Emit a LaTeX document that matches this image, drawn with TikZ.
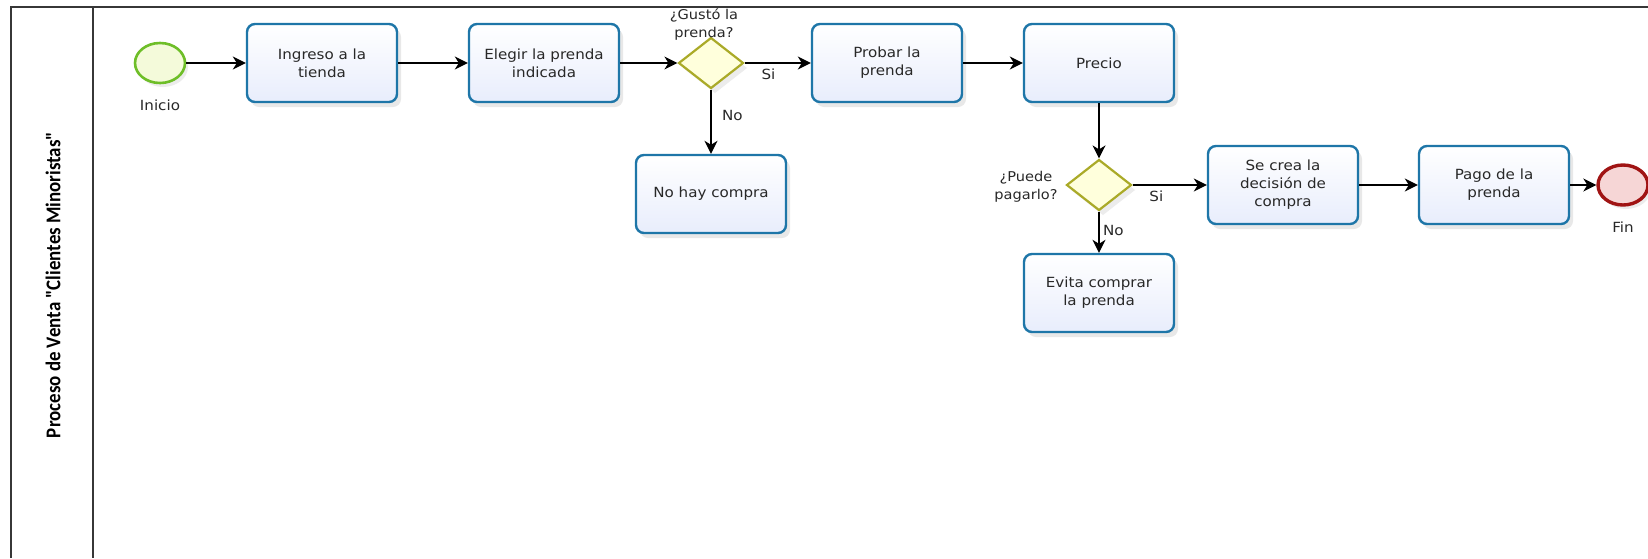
\documentclass[tikz,border=0pt]{standalone}
\usepackage{fontspec}
\setmainfont{DejaVu Sans}[FakeStretch=1.08]
\newfontfamily\lanefont{Carlito}[FakeStretch=0.9]
\usetikzlibrary{shapes.geometric,arrows.meta,shadows,positioning}

\definecolor{taskBlue}{RGB}{30,118,168}
\definecolor{taskFill}{RGB}{232,237,252}
\definecolor{gateLine}{RGB}{170,170,40}
\definecolor{gateFill}{RGB}{255,255,220}
\definecolor{startLine}{RGB}{110,190,40}
\definecolor{startFill}{RGB}{244,250,218}
\definecolor{endLine}{RGB}{160,20,20}
\definecolor{endFill}{RGB}{246,214,214}
\definecolor{textGray}{RGB}{40,40,40}
\definecolor{poolLine}{RGB}{55,55,55}

\begin{document}
\begin{tikzpicture}
[x=1pt,y=-1pt,
  poolDecorate/.style={draw=poolLine,line width=1.6pt},%
  taskDecorate/.style={shape=rectangle,rounded corners=8pt,draw=taskBlue,line width=2.4pt,
    top color=white,bottom color=taskFill,minimum width=150pt,minimum height=78pt,
    align=center,text=textGray,font=\fontsize{14}{18}\selectfont,
    drop shadow={shadow xshift=4pt,shadow yshift=-5pt,opacity=0.18}},%
  gateDecorate/.style={shape=diamond,draw=gateLine,line width=2.2pt,fill=gateFill,
    minimum width=65pt,minimum height=51pt,inner sep=0pt,
    drop shadow={shadow xshift=4pt,shadow yshift=-5pt,opacity=0.15}},%
  eventDecorate/.style={shape=ellipse,minimum width=50pt,minimum height=40pt,inner sep=0pt,
    drop shadow={shadow xshift=3pt,shadow yshift=-4pt,opacity=0.15}},%
  lineDecorate/.style={-{Stealth[length=13pt,width=13pt,inset=4pt]},line width=1.4pt,black},%
  labelDecorate/.style={text=textGray,font=\fontsize{14}{18}\selectfont,align=center}]
\useasboundingbox (0,0) rectangle (1648,558);
%% pool and lane
\draw[poolDecorate] (11,558) -- (11,7) -- (1648,7);
\draw[poolDecorate] (93,7) -- (93,558);
\node (lane) at (53,285) [rotate=90,text=black,font=\lanefont\bfseries\fontsize{21}{24}\selectfont]
  {Proceso de Venta "Clientes Minoristas"};
%% events
\node (inicio) at (160,63) [eventDecorate,draw=startLine,line width=2.6pt,fill=startFill] {};
\node (fin) at (1623,185) [eventDecorate,draw=endLine,line width=3.4pt,fill=endFill] {};
\node (inicioLabel) [labelDecorate,below=12pt of inicio] {Inicio};
\node (finLabel) [labelDecorate,below=12pt of fin] {Fin};
%% tasks
\foreach \nodename/\x/\y/\nodetext in {ingreso/322/63/{Ingreso a la\\tienda},
  elegir/544/63/{Elegir la prenda\\indicada}, probar/887/63/{Probar la\\prenda},
  precio/1099/63/{Precio}, nohay/711/194/{No hay compra},
  evita/1099/293/{Evita comprar\\la prenda}, secrea/1283/185/{Se crea la\\decisión de\\compra},
  pago/1494/185/{Pago de la\\prenda}}
{
  \node (\nodename) at (\x,\y) [taskDecorate] {\nodetext};
}
%% gateways
\node (gusto) at (711,63) [gateDecorate] {};
\node (puede) at (1099,185) [gateDecorate] {};
\node (gustoLabel) at (704,24) [labelDecorate,font=\fontsize{13.5}{18}\selectfont] {¿Gustó la\\prenda?};
\node (puedeLabel) at (1061,187) [labelDecorate,anchor=east,font=\fontsize{13.5}{18}\selectfont] {¿Puede\\pagarlo?};
%% flows
\path
\foreach \startnode/\endnode in {
  inicio/ingreso, ingreso/elegir, elegir/gusto, probar/precio, precio/puede, secrea/pago, pago/fin}
{
  (\startnode) edge[lineDecorate] (\endnode)
};
\path (gusto) edge[lineDecorate] node[labelDecorate,pos=0.36,below=2pt] {Si} (probar)
      (gusto) edge[lineDecorate] node[labelDecorate,pos=0.4,right=7pt] {No} (nohay)
      (puede) edge[lineDecorate] node[labelDecorate,pos=0.32,below=2pt] {Si} (secrea)
      (puede) edge[lineDecorate] node[labelDecorate,pos=0.45,right=0pt] {No} (evita);
\end{tikzpicture}
\end{document}
